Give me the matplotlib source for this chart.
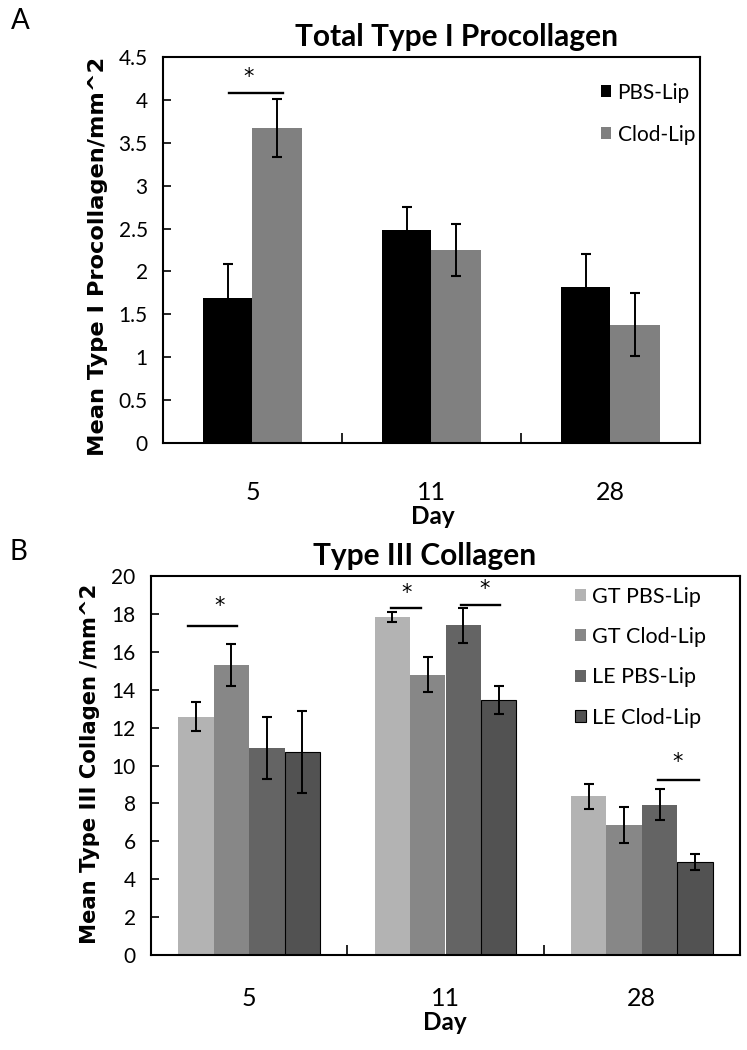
import matplotlib
matplotlib.use("Agg")
import matplotlib.pyplot as plt
import numpy as np

# ---------------- data ----------------
days = ["5", "11", "28"]

# Panel A: Total Type I Procollagen
a_series = ["PBS-Lip", "Clod-Lip"]
a_pbs = [1.69, 2.48, 1.82]
a_pbs_err = [0.40, 0.27, 0.38]
a_clod = [3.67, 2.25, 1.38]
a_clod_err = [0.34, 0.30, 0.37]

# Panel B: Type III Collagen
b_series = ["GT PBS-Lip", "GT Clod-Lip", "LE PBS-Lip", "LE Clod-Lip"]
b_gt_pbs = [12.58, 17.83, 8.37]
b_gt_pbs_err = [0.76, 0.25, 0.65]
b_gt_clod = [15.29, 14.80, 6.86]
b_gt_clod_err = [1.10, 0.94, 0.95]
b_le_pbs = [10.92, 17.39, 7.94]
b_le_pbs_err = [1.63, 0.92, 0.80]
b_le_clod = [10.73, 13.45, 4.90]
b_le_clod_err = [2.17, 0.75, 0.42]

a_ticks = [0, 0.5, 1, 1.5, 2, 2.5, 3, 3.5, 4, 4.5]
a_ticklabels = ["0", "0.5", "1", "1.5", "2", "2.5", "3", "3.5", "4", "4.5"]
b_ticks = [0, 2, 4, 6, 8, 10, 12, 14, 16, 18, 20]

plt.rcParams['font.family'] = ['Lato', 'DejaVu Sans']

W, H = 747, 1050
fig = plt.figure(figsize=(W / 100, H / 100), dpi=100)

def frac_axes(l, t, r, b):
    return fig.add_axes([l / W, 1 - b / H, (r - l) / W, (b - t) / H])

def style_axes(ax):
    for s in ax.spines.values():
        s.set_linewidth(1.5)
        s.set_color("black")
    ax.tick_params(axis='y', direction='in', length=6, width=1.2, pad=11,
                   labelsize=15)
    ax.set_xticks(range(len(days)))
    ax.set_xticklabels(days)
    ax.tick_params(axis='x', which='major', length=0, pad=27, labelsize=18)
    ax.set_xticks([0.5, 1.5], minor=True)
    ax.tick_params(axis='x', which='minor', direction='in', length=7, width=1.2)
    ax.set_xlim(-0.5, len(days) - 0.5)

ekw = dict(ecolor='black', elinewidth=1.4, capsize=3.5, capthick=1.5)
star_kw = dict(ha='center', va='center', fontsize=15, family='DejaVu Sans')

# ---------------- Panel A ----------------
axA = frac_axes(163, 57, 700, 443)
x = np.arange(len(days))
wA = 0.275
axA.bar(x - wA / 2, a_pbs, wA, yerr=a_pbs_err, color='black',
        label=a_series[0], error_kw=ekw, zorder=2)
axA.bar(x + wA / 2, a_clod, wA, yerr=a_clod_err, color='#808080',
        label=a_series[1], error_kw=ekw, zorder=2)
axA.set_ylim(0, 4.5)
axA.set_yticks(a_ticks)
axA.set_yticklabels(a_ticklabels)
style_axes(axA)
axA.plot([-0.13, 0.17], [4.08, 4.08], color='black', lw=1.7)
axA.text(-0.02, 4.27, "*", **star_kw)
legA = axA.legend(loc='upper left', bbox_to_anchor=(0.8, 0.955), frameon=False,
                  fontsize=15, handlelength=0.5, handleheight=0.5,
                  handletextpad=0.3, labelspacing=1.05, borderaxespad=0)

fig.text(457 / W, 1 - 37 / H, "Total Type I Procollagen", ha='center',
         va='center', fontsize=21.5, fontweight='bold')
fig.text(98 / W, 1 - 256 / H, "Mean Type I Procollagen/mm^2", rotation=90,
         ha='center', va='center', fontsize=16.2, fontweight='bold',
         family='DejaVu Sans')
fig.text(433 / W, 1 - 517 / H, "Day", ha='center', va='center', fontsize=17.5,
         fontweight='bold')
fig.text(20 / W, 1 - 21 / H, "A", ha='center', va='center', fontsize=20)

# ---------------- Panel B ----------------
axB = frac_axes(151, 576, 740, 955)
wB = 0.18
b_vals = [b_gt_pbs, b_gt_clod, b_le_pbs, b_le_clod]
b_errs = [b_gt_pbs_err, b_gt_clod_err, b_le_pbs_err, b_le_clod_err]
b_colors = ['#b3b3b3', '#878787', '#646464', '#525252']
b_edges = ['none', 'none', 'none', 'black']
for i, (vals, errs, c, ec, lab) in enumerate(zip(b_vals, b_errs, b_colors, b_edges, b_series)):
    off = (i - 1.5) * wB
    axB.bar(x + off, vals, wB, yerr=errs, color=c, edgecolor=ec,
            linewidth=0.8 if ec != 'none' else 0, label=lab, error_kw=ekw,
            zorder=2)
axB.set_ylim(0, 20)
axB.set_yticks(b_ticks)
style_axes(axB)
axB.tick_params(axis='x', which='major', pad=23)

sigB = [(-0.31, -0.06, 17.35, -0.15, 18.4),
        (0.72, 0.875, 18.3, 0.80, 19.1),
        (1.08, 1.28, 18.45, 1.20, 19.3),
        (2.08, 2.29, 9.25, 2.18, 10.2)]
for x0, x1, yl, xs, ys in sigB:
    axB.plot([x0, x1], [yl, yl], color='black', lw=1.7)
    axB.text(xs, ys, "*", **star_kw)

legB = axB.legend(loc='upper left', bbox_to_anchor=(0.705, 0.995), frameon=False,
                  fontsize=15.5, handlelength=0.5, handleheight=0.5,
                  handletextpad=0.3, labelspacing=0.95, borderaxespad=0)

fig.text(425 / W, 1 - 556 / H, "Type III Collagen", ha='center',
         va='center', fontsize=21.5, fontweight='bold')
fig.text(90 / W, 1 - 764 / H, "Mean Type III Collagen /mm^2", rotation=90,
         ha='center', va='center', fontsize=15.2, fontweight='bold',
         family='DejaVu Sans')
fig.text(445 / W, 1 - 1022 / H, "Day", ha='center', va='center', fontsize=17.5,
         fontweight='bold')
fig.text(18 / W, 1 - 552 / H, "B", ha='center', va='center', fontsize=20)

fig.savefig("out.png", dpi=100)
